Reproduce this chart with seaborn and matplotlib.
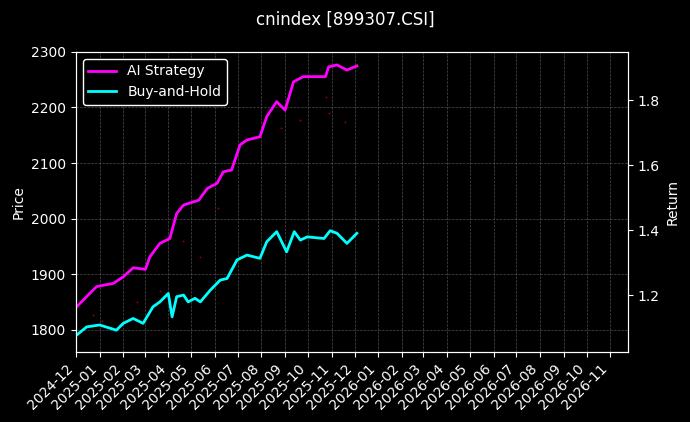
import matplotlib
matplotlib.use("Agg")
import matplotlib.pyplot as plt
import matplotlib.dates as mdates
import seaborn as sns
import pandas as pd
import numpy as np

start = pd.Timestamp("2024-12-01")
ai_days = [1,27,49,62,75,91,97,110,123,132,141,161,172,185,193,204,215,224,241,250,263,274,285,298,327,331,342,355,368]
ai_ret = [1.164,1.226,1.236,1.256,1.284,1.279,1.318,1.359,1.374,1.451,1.477,1.492,1.528,1.544,1.579,1.585,1.662,1.677,1.687,1.749,1.795,1.769,1.856,1.872,1.872,1.902,1.908,1.892,1.905]
bh_days = [1,14,31,53,62,75,88,101,110,121,126,132,141,147,156,163,176,189,198,211,224,241,250,263,276,286,294,303,325,333,342,355,368]
bh_ret = [1.077,1.102,1.108,1.092,1.113,1.128,1.113,1.164,1.179,1.205,1.133,1.195,1.200,1.179,1.190,1.179,1.215,1.246,1.251,1.308,1.323,1.313,1.364,1.395,1.333,1.395,1.369,1.379,1.374,1.398,1.390,1.359,1.390]
dot_days = [22,80,186,245,268,293,327,331,352,163,34,110,140]
dot_price = [1827,1849,2019,1947,2163,2178,2219,2190,2174,1930,1815,1870,1960]

plt.style.use("dark_background")
plt.rcParams['font.family'] = ['DejaVu Sans']
plt.rcParams['font.size'] = 10

ai = pd.DataFrame({"date": start + pd.to_timedelta(ai_days, unit="D"), "ret": ai_ret})
bh = pd.DataFrame({"date": start + pd.to_timedelta(bh_days, unit="D"), "ret": bh_ret})
dots = pd.DataFrame({"date": start + pd.to_timedelta(dot_days, unit="D"), "price": dot_price})

fig = plt.figure(figsize=(6.9, 4.22), dpi=100, facecolor="black")
ax = fig.add_axes([0.110, 0.166, 0.800, 0.711])
ax.set_facecolor("black")
sns.scatterplot(data=dots, x="date", y="price", ax=ax, color="#8b0000", s=2, linewidth=0)
ax.set_ylim(1760, 2300)
ax.set_ylabel("Price", color="white")
ax.set_xlabel("")
ax.grid(True, color="gray", linestyle="--", linewidth=0.5, alpha=0.6)

ax2 = ax.twinx()
sns.lineplot(data=ai, x="date", y="ret", ax=ax2, color="#ff00ff", linewidth=2, label="AI Strategy")
sns.lineplot(data=bh, x="date", y="ret", ax=ax2, color="#00ffff", linewidth=2, label="Buy-and-Hold")
ax2.set_ylim(1.025, 1.948)
ax2.set_ylabel("Return", color="white")
ax2.grid(False)
ax2.set_yticks([1.2, 1.4, 1.6, 1.8])

ax.set_xlim(pd.Timestamp("2024-12-01"), pd.Timestamp("2026-11-24"))
ax.xaxis.set_major_locator(mdates.MonthLocator())
ax.xaxis.set_major_formatter(mdates.DateFormatter("%Y-%m"))
for lab in ax.get_xticklabels():
    lab.set_rotation(45); lab.set_ha("right")
for a in (ax, ax2):
    for s in a.spines.values():
        s.set_color("white")
    a.tick_params(colors="white")

leg = ax2.legend(loc="upper left", facecolor="black", edgecolor="white", framealpha=1)
for t in leg.get_texts():
    t.set_color("white")
fig.suptitle("cnindex [899307.CSI]", color="white", y=0.975, fontsize=12)
fig.savefig("out.png", dpi=100, facecolor="black")
